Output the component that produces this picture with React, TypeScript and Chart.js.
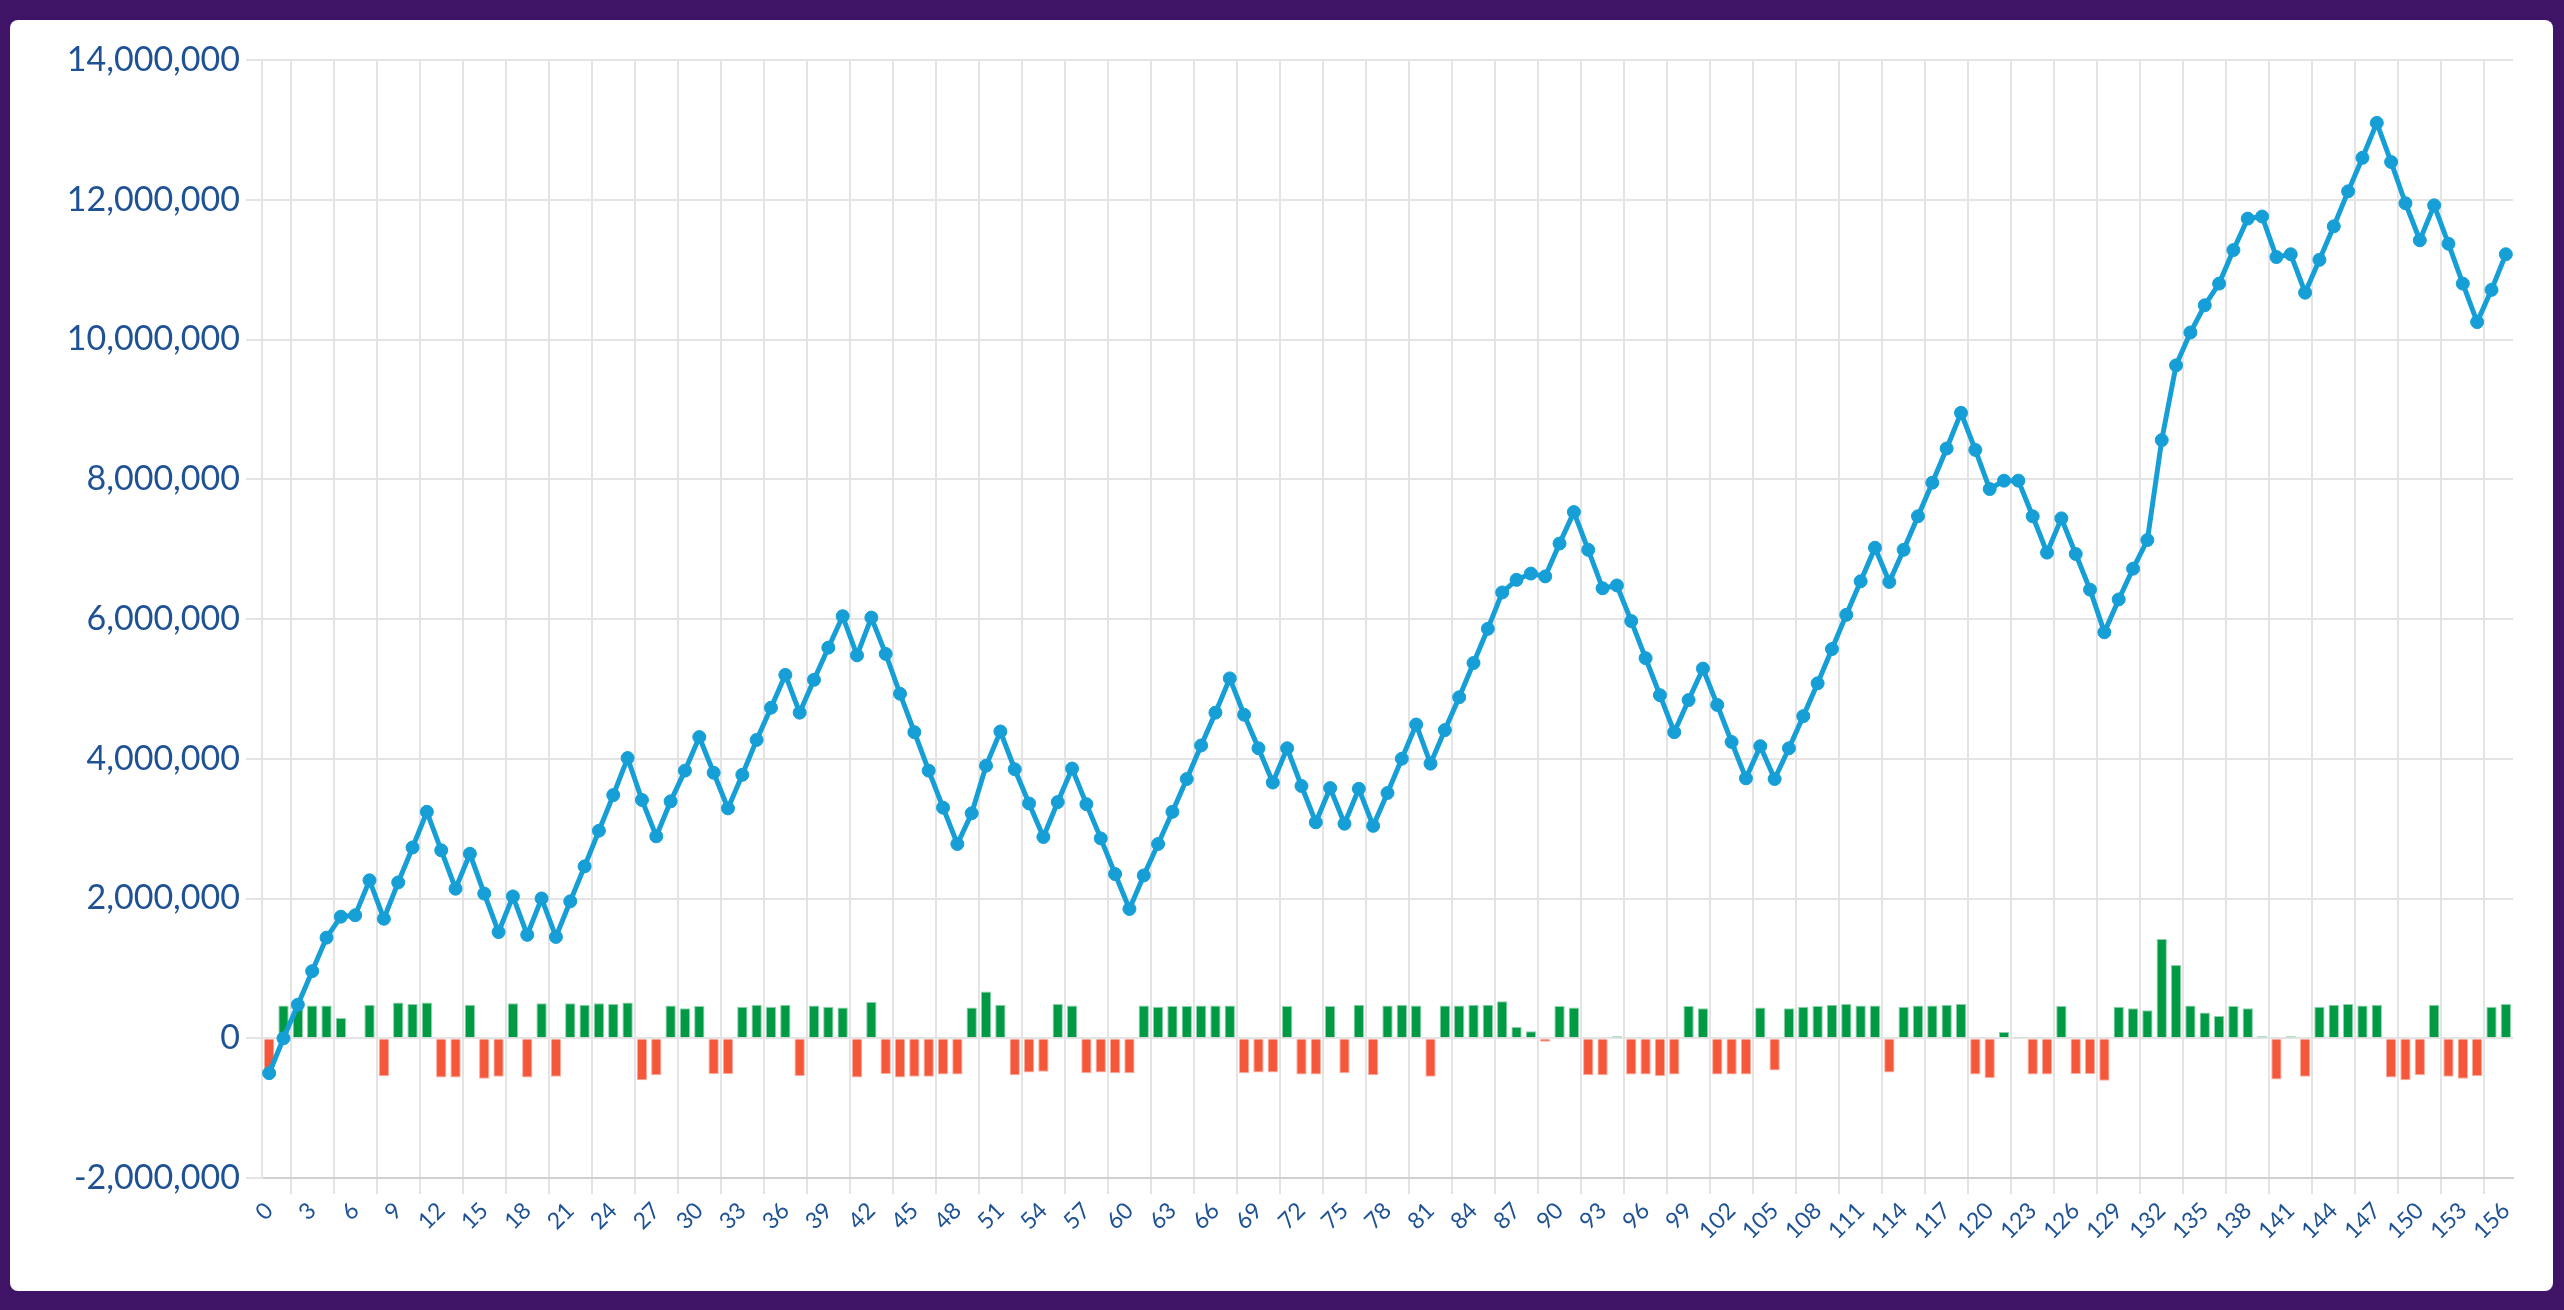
import { useEffect, useRef } from "react";
import { Chart, registerables } from "chart.js";

Chart.register(...registerables);

const categories = [
  "0", "1", "2", "3", "4", "5", "6", "7", "8", "9",
  "10", "11", "12", "13", "14", "15", "16", "17", "18", "19",
  "20", "21", "22", "23", "24", "25", "26", "27", "28", "29",
  "30", "31", "32", "33", "34", "35", "36", "37", "38", "39",
  "40", "41", "42", "43", "44", "45", "46", "47", "48", "49",
  "50", "51", "52", "53", "54", "55", "56", "57", "58", "59",
  "60", "61", "62", "63", "64", "65", "66", "67", "68", "69",
  "70", "71", "72", "73", "74", "75", "76", "77", "78", "79",
  "80", "81", "82", "83", "84", "85", "86", "87", "88", "89",
  "90", "91", "92", "93", "94", "95", "96", "97", "98", "99",
  "100", "101", "102", "103", "104", "105", "106", "107", "108", "109",
  "110", "111", "112", "113", "114", "115", "116", "117", "118", "119",
  "120", "121", "122", "123", "124", "125", "126", "127", "128", "129",
  "130", "131", "132", "133", "134", "135", "136", "137", "138", "139",
  "140", "141", "142", "143", "144", "145", "146", "147", "148", "149",
  "150", "151", "152", "153", "154", "155", "156",
];

// running total (line)
const balance = [
  -500000, 0, 480000, 960000, 1440000, 1740000, 1760000, 2260000, 1710000, 2230000,
  2730000, 3240000, 2690000, 2140000, 2640000, 2070000, 1520000, 2030000, 1480000, 2000000,
  1450000, 1960000, 2460000, 2970000, 3480000, 4010000, 3410000, 2890000, 3390000, 3830000,
  4310000, 3800000, 3290000, 3770000, 4270000, 4730000, 5200000, 4660000, 5130000, 5590000,
  6040000, 5480000, 6020000, 5500000, 4930000, 4380000, 3830000, 3300000, 2780000, 3220000,
  3900000, 4390000, 3850000, 3360000, 2880000, 3380000, 3860000, 3350000, 2860000, 2350000,
  1850000, 2330000, 2780000, 3240000, 3710000, 4190000, 4660000, 5150000, 4630000, 4150000,
  3660000, 4150000, 3610000, 3090000, 3580000, 3070000, 3570000, 3040000, 3510000, 4000000,
  4490000, 3930000, 4410000, 4880000, 5370000, 5860000, 6380000, 6560000, 6650000, 6610000,
  7080000, 7530000, 6990000, 6440000, 6480000, 5970000, 5440000, 4910000, 4380000, 4840000,
  5290000, 4770000, 4240000, 3720000, 4180000, 3710000, 4150000, 4610000, 5080000, 5570000,
  6060000, 6540000, 7020000, 6530000, 6990000, 7470000, 7950000, 8440000, 8950000, 8420000,
  7860000, 7980000, 7980000, 7470000, 6950000, 7440000, 6930000, 6420000, 5810000, 6280000,
  6720000, 7130000, 8560000, 9630000, 10100000, 10490000, 10800000, 11280000, 11730000, 11760000,
  11180000, 11220000, 10670000, 11140000, 11620000, 12120000, 12600000, 13100000, 12540000, 11950000,
  11420000, 11920000, 11370000, 10800000, 10250000, 10710000, 11220000,
];

// per-step change (bars)
const change = [
  -480000, 470000, 470000, 470000, 470000, 290000, 15000, 480000, -545000, 510000,
  490000, 510000, -560000, -560000, 480000, -580000, -550000, 500000, -560000, 500000,
  -550000, 500000, 480000, 500000, 490000, 510000, -600000, -530000, 470000, 430000,
  460000, -510000, -510000, 450000, 480000, 450000, 480000, -540000, 470000, 450000,
  440000, -560000, 520000, -510000, -560000, -550000, -550000, -520000, -520000, 440000,
  670000, 480000, -530000, -490000, -480000, 490000, 470000, -500000, -490000, -500000,
  -500000, 470000, 450000, 460000, 460000, 470000, 470000, 470000, -500000, -490000,
  -490000, 460000, -520000, -520000, 460000, -500000, 480000, -530000, 470000, 480000,
  470000, -550000, 470000, 470000, 480000, 480000, 530000, 160000, 100000, -50000,
  460000, 440000, -530000, -530000, 30000, -520000, -520000, -540000, -520000, 460000,
  430000, -520000, -520000, -520000, 440000, -460000, 430000, 450000, 460000, 480000,
  490000, 470000, 470000, -490000, 450000, 470000, 470000, 480000, 490000, -520000,
  -570000, 90000, 10000, -520000, -520000, 460000, -510000, -510000, -610000, 450000,
  430000, 400000, 1420000, 1050000, 470000, 370000, 320000, 460000, 430000, 30000,
  -590000, 30000, -550000, 450000, 480000, 490000, 470000, 480000, -560000, -600000,
  -530000, 480000, -550000, -580000, -540000, 450000, 490000,
];

const yTicks = [-2000000, 0, 2000000, 4000000, 6000000, 8000000, 10000000, 12000000, 14000000];

const LINE = "#169fd6";
const GREEN = "#009a44";
const GREEN_EDGE = "rgba(0,154,68,0.45)";
const RED = "#f5573b";
const RED_EDGE = "rgba(245,87,59,0.5)";
const GRID = "#e4e4e4";
const AXIS = "#d0d0d0";
const TEXT = "#1e5294";

Chart.defaults.font.family = "Lato, 'Noto Sans', sans-serif";

function BalanceChart() {
  const canvasRef = useRef<HTMLCanvasElement | null>(null);

  useEffect(() => {
    if (!canvasRef.current) return;
    const chart = new Chart(canvasRef.current, {
      type: "bar",
      data: {
        labels: categories,
        datasets: [
          {
            type: "line",
            label: "Balance",
            data: balance,
            borderColor: LINE,
            backgroundColor: LINE,
            borderWidth: 5,
            pointRadius: 6.5,
            pointBorderWidth: 1,
            pointBackgroundColor: LINE,
            pointBorderColor: LINE,
            tension: 0,
            order: 0,
          },
          {
            type: "bar",
            label: "Change",
            data: change,
            backgroundColor: change.map((v) => (v >= 0 ? GREEN : RED)),
            borderColor: change.map((v) => (v >= 0 ? GREEN_EDGE : RED_EDGE)),
            borderWidth: 1,
            order: 1,
          },
        ],
      },
      options: {
        responsive: true,
        maintainAspectRatio: false,
        animation: false,
        layout: { padding: { top: 30, right: 17, left: 0, bottom: 0 } },
        plugins: {
          legend: { display: false },
          tooltip: { enabled: false },
        },
        scales: {
          x: {
            grid: { color: GRID, lineWidth: 2, tickLength: 16 },
            border: { color: AXIS, width: 2 },
            ticks: {
              color: TEXT,
              font: { size: 23 },
              minRotation: 45,
              maxRotation: 45,
              autoSkip: true,
              autoSkipPadding: 0,
              maxTicksLimit: 60,
            },
            afterFit: (scale) => {
              scale.height = 102;
            },
          },
          y: {
            min: -2000000,
            max: 14000000,
            grid: { color: GRID, lineWidth: 2, tickLength: 16 },
            border: { color: GRID, width: 2 },
            ticks: {
              color: TEXT,
              font: { size: 34 },
              padding: 6,
              callback: (v) => Number(v).toLocaleString("en-US"),
            },
            afterBuildTicks: (scale) => {
              scale.ticks = yTicks.map((value) => ({ value }));
            },
            afterFit: (scale) => {
              scale.width = 242;
            },
          },
        },
      },
    });

    return () => {
      chart.destroy();
    };
  }, []);

  return (
    <div style={{ position: "absolute", left: 10, top: 10, width: 2510, height: 1250 }}>
      <canvas ref={canvasRef} />
    </div>
  );
}

export default function App() {
  return (
    <div style={{ position: "fixed", inset: 0, background: "#3f1466" }}>
      <div
        style={{
          position: "absolute",
          left: 10,
          top: 20,
          width: 2543,
          height: 1271,
          background: "#fff",
          borderRadius: 8,
        }}
      >
        <BalanceChart />
      </div>
    </div>
  );
}
